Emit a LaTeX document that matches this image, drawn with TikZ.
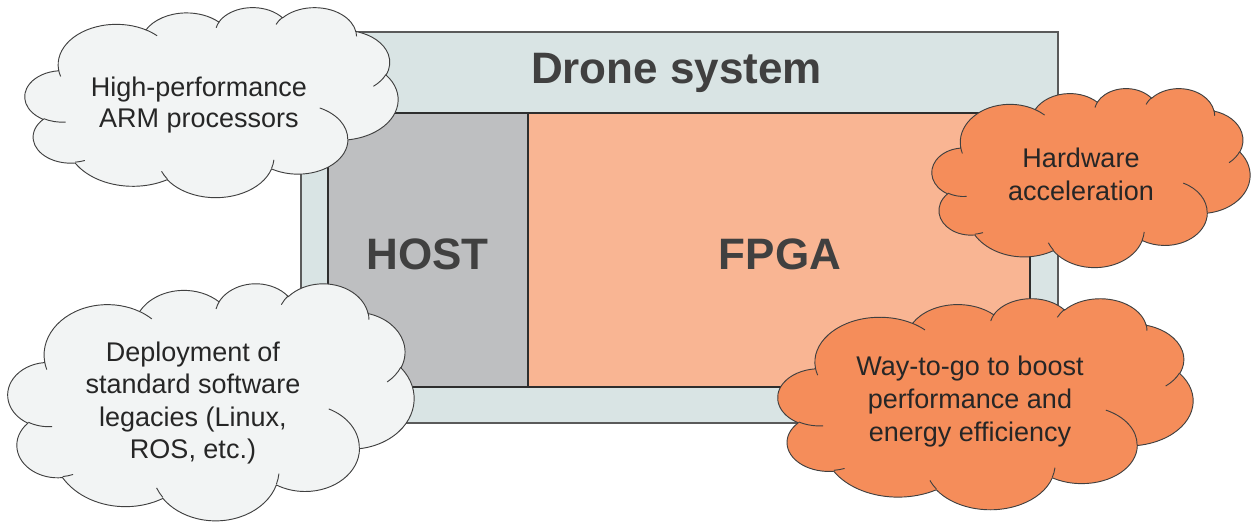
\documentclass[tikz,border=0pt]{standalone}
\usepackage{fontspec}
\setmainfont{Liberation Sans}
\definecolor{outerfill}{HTML}{D9E4E4}
\definecolor{outerline}{HTML}{5A5A5A}
\definecolor{hostfill}{HTML}{BEBFC1}
\definecolor{fpgafill}{HTML}{F9B593}
\definecolor{boxline}{HTML}{2E2E2E}
\definecolor{lightcloud}{HTML}{F2F4F4}
\definecolor{orangecloud}{HTML}{F58D5A}
\definecolor{cloudedge}{HTML}{404040}
\definecolor{titletext}{HTML}{404040}
\definecolor{cloudtext}{HTML}{262626}
\newcommand\cldarc[4]{%
  \pgfextra{%
    \pgfmathparse{atan2((#1)*sin(#3),(#2)*cos(#3))}\xdef\cldA{\pgfmathresult}%
    \pgfmathparse{atan2((#1)*sin((#3)+(#4)),(#2)*cos((#3)+(#4)))}\xdef\cldB{\pgfmathresult}%
    \pgfmathparse{mod((\cldB)-(\cldA)+720,360)}\xdef\cldD{\pgfmathresult}%
  }%
  arc[start angle=\cldA, delta angle=\cldD, x radius=#1, y radius=#2]%
}
\newcommand\drawcloud[5]{%
  \pgfmathsetmacro\cldsx{#3*0.75/432}%
  \pgfmathsetmacro\cldsy{#4*0.75/432}%
  \begin{scope}[shift={(#1,#2)},x=\cldsx pt,y=-\cldsy pt]
    \path[cloudshape,fill=#5] (39.00,143.70)
      \cldarc{67.53}{91.90}{-190.4875}{123.7805}
      \cldarc{53.33}{72.67}{-144.1024}{89.9452}
      \cldarc{43.65}{59.45}{-145.8079}{99.7230}
      \cldarc{48.57}{65.95}{-130.9861}{117.2417}
      \cldarc{53.33}{72.73}{-78.7089}{109.0269}
      \cldarc{67.75}{92.20}{-46.2673}{130.2690}
      \cldarc{57.85}{78.67}{0.6250}{114.0333}
      \cldarc{67.52}{92.15}{22.4516}{115.1726}
      \cldarc{77.20}{105.43}{66.2426}{75.7110}
      \cldarc{43.60}{59.18}{-274.9421}{146.7356}
      \cldarc{43.45}{59.45}{-246.8285}{152.5189}
      -- cycle;
    \path[cloudshape]
      (46.93,261.77) \cldarc{43.45}{59.45}{86.7420}{26.4295}
      (69.28,348.99) \cldarc{43.60}{59.18}{73.6105}{11.4475}
      (164.78,390.90) \cldarc{67.52}{92.15}{137.6242}{14.0811}
      (288.27,347.51) \cldarc{67.52}{92.15}{6.4533}{15.9984}
      (341.29,229.54) \cldarc{57.85}{78.67}{-70.2924}{70.9174}
      (417.98,153.54) \cldarc{53.33}{72.73}{30.3180}{27.7515}
      (383.24,54.26) \cldarc{48.57}{65.95}{-13.7443}{14.8589}
      (290.78,39.52) \cldarc{48.57}{65.95}{-149.1815}{18.1954}
      (221.41,47.20) \cldarc{43.65}{59.45}{-163.4943}{17.6864}
      (140.00,51.92) \cldarc{67.53}{91.90}{-66.7070}{12.3194}
      (41.27,157.89) \cldarc{67.53}{91.90}{157.6544}{11.8582};
  \end{scope}%
}
\tikzset{
  cloudshape/.style={draw=cloudedge,line width=0.7pt},
  outerbox/.style={draw=outerline,fill=outerfill,line width=1pt},
  hostbox/.style={draw=boxline,fill=hostfill,line width=0.8pt},
  fpgabox/.style={draw=boxline,fill=fpgafill,line width=0.8pt},
  bigtext/.style={font=\bfseries\fontsize{33}{40}\selectfont,text=titletext,inner sep=0pt,anchor=base},
  cloudtxt/.style={font=\fontsize{20.25}{24.75}\selectfont,text=cloudtext,inner sep=0pt,align=center,
    execute at begin node=\strut, execute at end node=\strut},
}
\begin{document}
\begin{tikzpicture}[x=0.75pt,y=-0.75pt]
\useasboundingbox (0,0) rectangle (1251,531);
\fill[white] (0,0) rectangle (1251,531);
% boxes
\draw[outerbox] (301,32) rectangle (1058,423);
\draw[hostbox] (328,113) rectangle (528,387);
\draw[fpgabox] (528,113) rectangle (1030,387);
\node[bigtext] (title) at (676.5,84) {Drone system};
\node[bigtext] (host) at (427.5,269) {HOST};
\node[bigtext] (fpga) at (780,269) {FPGA};
% clouds
\drawcloud{25}{7}{373}{190}{lightcloud}
\drawcloud{8}{283}{406}{237}{lightcloud}
\drawcloud{932}{88}{318}{179}{orangecloud}
\drawcloud{778}{298}{415}{211}{orangecloud}
\node[cloudtxt,font=\fontsize{20.25}{23.25}\selectfont] (arm) at (199,106.8) {High-performance\\ARM processors};
\node[cloudtxt,font=\fontsize{20.25}{24.4}\selectfont] (deploy) at (193,405) {Deployment of\\standard software\\legacies (Linux,\\ROS, etc.)};
\node[cloudtxt] (hwacc) at (1081,179.4) {Hardware\\acceleration};
\node[cloudtxt] (way) at (970,403.8) {Way-to-go to boost\\performance and\\energy efficiency};
\end{tikzpicture}
\end{document}
